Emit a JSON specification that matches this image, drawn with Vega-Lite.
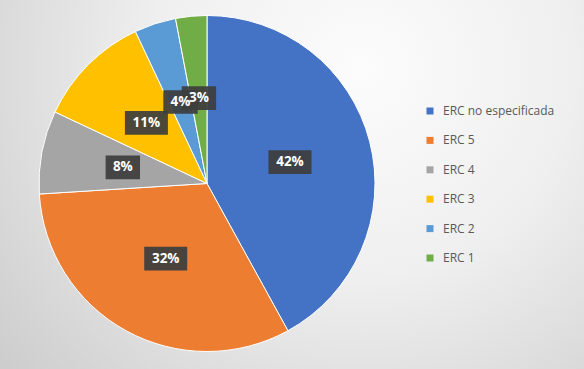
{
  "$schema": "https://vega.github.io/schema/vega-lite/v6.json",
  "width": 584,
  "height": 369,
  "autosize": {"type": "none"},
  "padding": 0,
  "background": "#e2e2e2",
  "config": {"view": {"stroke": null}},
  "data": {
    "values": [
      {"category": "ERC no especificada", "value": 42, "order": 1},
      {"category": "ERC 5", "value": 32, "order": 2},
      {"category": "ERC 4", "value": 8, "order": 3},
      {"category": "ERC 3", "value": 11, "order": 4},
      {"category": "ERC 2", "value": 4, "order": 5},
      {"category": "ERC 1", "value": 3, "order": 6}
    ]
  },
  "layer": [
    {
      "data": {"values": [{"bg": 1}]},
      "mark": {
        "type": "rect",
        "fill": {
          "gradient": "radial",
          "x1": 0.62, "y1": 0.3, "r1": 0,
          "x2": 0.62, "y2": 0.3, "r2": 0.8,
          "stops": [
            {"offset": 0, "color": "#fcfcfc"},
            {"offset": 0.45, "color": "#efefef"},
            {"offset": 1, "color": "#cdcdcd"}
          ]
        }
      },
      "encoding": {}
    },
    {
      "mark": {"type": "arc", "outerRadius": 168, "stroke": "#ffffff", "strokeWidth": 1},
      "encoding": {
        "x": {"datum": 0, "type": "quantitative", "scale": {"domain": [-1.232, 2.244], "nice": false, "zero": false}, "axis": null},
        "y": {"datum": 0, "type": "quantitative", "scale": {"domain": [-1.104, 1.092], "nice": false, "zero": false}, "axis": null},
        "theta": {"field": "value", "type": "quantitative", "stack": true},
        "order": {"field": "order", "type": "quantitative"},
        "color": {
          "field": "category",
          "type": "nominal",
          "scale": {
            "domain": ["ERC no especificada", "ERC 5", "ERC 4", "ERC 3", "ERC 2", "ERC 1"],
            "range": ["#4472C4", "#ED7D31", "#A5A5A5", "#FFC000", "#5B9BD5", "#70AD47"]
          },
          "sort": null,
          "legend": {
            "title": null,
            "orient": "none",
            "legendX": 424,
            "legendY": 105,
            "symbolType": "square",
            "symbolSize": 49,
            "symbolStrokeWidth": 0,
            "labelFont": "Open Sans",
            "labelFontSize": 12,
            "labelColor": "#595959",
            "labelOffset": 7,
            "rowPadding": 17.4,
            "padding": 0
          }
        }
      }
    },
    {
      "transform": [
        {"joinaggregate": [{"op": "sum", "field": "value", "as": "total"}]},
        {"window": [{"op": "sum", "field": "value", "as": "cum"}], "sort": [{"field": "order"}], "frame": [null, 0]},
        {"calculate": "(datum.cum - datum.value / 2) / datum.total * 2 * PI", "as": "mid"},
        {"calculate": "0.51 * sin(datum.mid)", "as": "px"},
        {"calculate": "0.51 * cos(datum.mid)", "as": "py"},
        {"calculate": "datum.value + '%'", "as": "label"},
        {"calculate": "length(datum.label)", "as": "len"}
      ],
      "layer": [
        {
          "mark": {"type": "point", "filled": true, "fill": "#3d3d3d", "opacity": 0.93, "strokeWidth": 0, "size": 1849},
          "encoding": {
            "x": {"field": "px", "type": "quantitative"},
            "y": {"field": "py", "type": "quantitative"},
            "shape": {
              "field": "len",
              "type": "nominal",
              "scale": {"domain": [2, 3], "range": ["M-0.8,-0.55H0.8V0.55H-0.8Z", "M-1,-0.55H1V0.55H-1Z"]},
              "legend": null
            }
          }
        },
        {
          "mark": {"type": "text", "color": "#ffffff", "font": "Open Sans", "fontWeight": "bold", "fontSize": 13.5, "align": "center", "baseline": "middle"},
          "encoding": {
            "x": {"field": "px", "type": "quantitative"},
            "y": {"field": "py", "type": "quantitative"},
            "text": {"field": "label", "type": "nominal"}
          }
        }
      ]
    }
  ]
}
